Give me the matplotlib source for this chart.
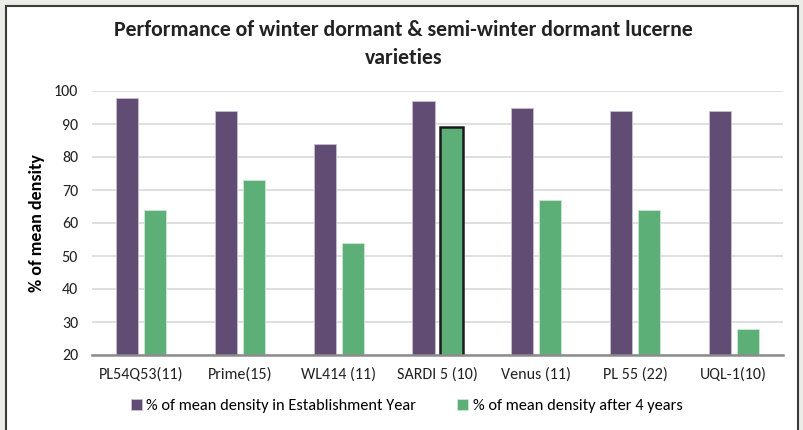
import numpy as np
import matplotlib.pyplot as plt
from matplotlib.patches import Rectangle

varieties = ['PL54Q53(11)', 'Prime(15)', 'WL414 (11)', 'SARDI 5 (10)',
             'Venus (11)', 'PL 55 (22)', 'UQL-1(10)']
establishment = [98, 94, 84, 97, 95, 94, 94]
after_4_years = [64, 73, 54, 89, 67, 64, 28]
highlight = 'SARDI 5 (10)'

purple = '#614c73'
green = '#5daf78'

plt.rcParams['font.family'] = ['Carlito', 'Lato', 'DejaVu Sans']

fig = plt.figure(figsize=(8.04, 4.30), dpi=100)
fig.patch.set_facecolor('#ebebe8')

# white chart panel with dark border
panel = Rectangle((6 / 804, -0.02), 792 / 804, 1 - 6 / 430 + 0.02,
                  transform=fig.transFigure, facecolor='white',
                  edgecolor='#3a3a3a', linewidth=1.5, zorder=-5)
fig.patches.append(panel)

ax = fig.add_axes([92 / 804, 1 - 355 / 430, 691 / 804, 264 / 430])
ax.set_facecolor('none')

x = np.arange(len(varieties))
w = 0.225
off = 0.142
ax.bar(x - off, establishment, w, color=purple, edgecolor='#c9bfd3',
       linewidth=0.6, label='% of mean density in Establishment Year', zorder=3)
bars = ax.bar(x + off, after_4_years, w, color=green, edgecolor='#cfe6d6',
              linewidth=0.6, label='% of mean density after 4 years', zorder=3)
hi = varieties.index(highlight)
bars[hi].set_edgecolor('#1a1a1a')
bars[hi].set_linewidth(1.8)

ax.set_xlim(-0.5, len(varieties) - 0.5)
ax.set_ylim(20, 100)
ax.set_yticks(range(20, 101, 10))
ax.set_xticks(x)
ax.set_xticklabels(varieties)
ax.tick_params(axis='both', length=0, labelsize=11.5, colors='#222222')
ax.tick_params(axis='y', pad=10)
ax.tick_params(axis='x', pad=9)
ax.grid(axis='y', color='#d9d9d9', linewidth=1.2, zorder=0)
for s in ['top', 'right', 'left']:
    ax.spines[s].set_visible(False)
ax.spines['bottom'].set_color('#8c8c8c')
ax.spines['bottom'].set_linewidth(1.8)
ax.spines['bottom'].set_zorder(4)

ax.set_ylabel('% of mean density', fontsize=13, fontweight='bold', labelpad=6)

fig.text(0.502, 1 - 44 / 430,
         'Performance of winter dormant & semi-winter dormant lucerne\nvarieties',
         ha='center', va='center', fontsize=15.7, fontweight='bold',
         linespacing=1.45, color='#222222')

fig.legend(loc='center', bbox_to_anchor=(0.506, 1 - 406 / 430), ncol=2,
           frameon=False, fontsize=11.8, handlelength=0.65, handleheight=0.65,
           handletextpad=0.3, columnspacing=2.5)

fig.savefig('out.png', dpi=100, facecolor=fig.get_facecolor())
